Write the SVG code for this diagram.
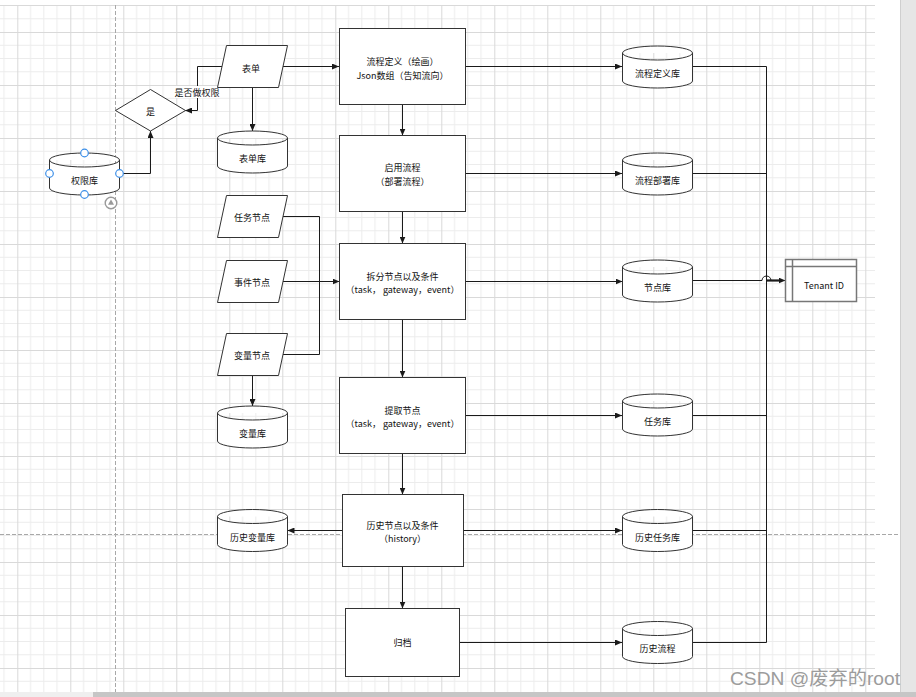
<svg xmlns="http://www.w3.org/2000/svg" width="916" height="697" viewBox="0 0 916 697">
<style>
.shape{fill:#fff;stroke:#333;stroke-width:1}
.t{font-family:"Noto Sans CJK SC","Liberation Sans",sans-serif;font-size:9px;fill:#111;text-anchor:middle;dominant-baseline:central}
.edge{fill:none;stroke:#1a1a1a;stroke-width:1}
.arr{marker-end:url(#ah)}
.handle{fill:#fff;stroke:#3b8ee8;stroke-width:1.2}
</style>
<defs>
<pattern id="grid" x="17.3" y="32" width="53" height="53" patternUnits="userSpaceOnUse">
<path d="M13.25,0V53M26.5,0V53M39.75,0V53M0,13.25H53M0,26.5H53M0,39.75H53" stroke="#ececec" stroke-width="1" fill="none"/>
<path d="M0.5,0V53M0,0.5H53" stroke="#d9d9d9" stroke-width="1" fill="none"/>
</pattern>
<marker id="ah" markerUnits="userSpaceOnUse" markerWidth="7" markerHeight="6" refX="7" refY="3" orient="auto">
<path d="M0,0L7,3L0,6Z" fill="#1a1a1a"/>
</marker>
<path id="cyl" d="M0,7A35,7 0 0 1 70,7V35A35,7 0 0 1 0,35ZM0,7A35,7 0 0 0 70,7"/>
<path id="para" d="M9,0H70L61,42H0Z"/>
</defs>

<!-- canvas background -->
<rect x="0" y="0" width="916" height="697" fill="#fff"/>
<rect x="0" y="5" width="875" height="687" fill="url(#grid)"/>
<line x1="0" y1="5.5" x2="875" y2="5.5" stroke="#d9d9d9"/>
<rect x="900" y="0" width="16" height="692" fill="#e6e6e6"/>
<line x1="900.5" y1="0" x2="900.5" y2="692" stroke="#cfcfcf"/>
<rect x="0" y="692" width="916" height="5" fill="#efefef"/>
<rect x="93" y="692" width="823" height="5" fill="#c6c6c6"/>
<line x1="115.5" y1="5" x2="115.5" y2="692" stroke="#a8a8a8" stroke-dasharray="4 2"/>
<line x1="0" y1="534.5" x2="900" y2="534.5" stroke="#a8a8a8" stroke-dasharray="4 2"/>

<!-- connectors -->
<g id="connectors">
<path class="edge arr" d="M282.5,66.5H339"/>
<path class="edge arr" d="M222.5,66.5H197.5V110.5H185"/>
<path class="edge arr" d="M252.5,87.5V131"/>
<path class="edge arr" d="M119.5,173.5H150.5V131"/>
<path class="edge arr" d="M402.5,104.5V135.5"/>
<path class="edge arr" d="M402.5,211.5V243.5"/>
<path class="edge arr" d="M402.5,319.5V377.5"/>
<path class="edge arr" d="M402.5,453.5V494.5"/>
<path class="edge arr" d="M402.5,566.5V608.5"/>
<path class="edge arr" d="M342.5,530.5H287.5"/>
<path class="edge" d="M283,216.5H319.5V354.5H283"/>
<path class="edge arr" d="M283,281.5H339.5"/>
<path class="edge arr" d="M252.5,375V406"/>
<path class="edge arr" d="M465.5,66.5H622"/>
<path class="edge arr" d="M465.5,173.5H622"/>
<path class="edge arr" d="M465.5,281.5H622.5"/>
<path class="edge arr" d="M465.5,415.5H622"/>
<path class="edge arr" d="M463.5,530.5H622"/>
<path class="edge arr" d="M459.5,642.5H622"/>
<path class="edge" d="M692.5,66.5H766.5V642.5H692.5M692.5,173.5H766.5M692.5,415.5H766.5M692.5,530.5H766.5"/>
<path class="edge arr" d="M692.5,280.5H762A4.5,4.5 0 0 1 771,280.5H785.5"/>
<path d="M766.5,280.5H781" stroke="#1a1a1a" stroke-width="2.2"/>
<rect x="174" y="86" width="46" height="12" fill="#fff"/>
<text class="t" x="197" y="92">是否做权限</text>
</g>

<!-- left column -->
<g id="biaodan"><use href="#para" class="shape" x="217.5" y="45.5"/><text class="t" x="251" y="68">表单</text></g>
<g id="shi"><path class="shape" d="M115.5,110.5L150.5,89.5L185.5,110.5L150.5,131Z"/><text class="t" x="150.5" y="111">是</text></g>
<g id="biaodanku"><use href="#cyl" class="shape" x="217.5" y="131"/><text class="t" x="252.5" y="158">表单库</text></g>
<g id="quanxianku"><use href="#cyl" class="shape" x="49.5" y="153"/><text class="t" x="84.5" y="180">权限库</text>
<circle class="handle" cx="84.5" cy="153" r="3.8"/><circle class="handle" cx="49.5" cy="173.5" r="3.8"/><circle class="handle" cx="119.5" cy="173.5" r="3.8"/><circle class="handle" cx="84.5" cy="194.5" r="3.8"/>
<circle cx="111" cy="203" r="5.8" fill="#fff" stroke="#9a9a9a" stroke-width="1.4"/><path d="M111,199.6L114,204.8H108Z" fill="#9a9a9a"/></g>
<g id="renwujiedian"><use href="#para" class="shape" x="217.5" y="195.5"/><text class="t" x="252" y="217">任务节点</text></g>
<g id="shijianjiedian"><use href="#para" class="shape" x="217.5" y="260.5"/><text class="t" x="252" y="282">事件节点</text></g>
<g id="bianliangjiedian"><use href="#para" class="shape" x="217.5" y="333.5"/><text class="t" x="252" y="355">变量节点</text></g>
<g id="bianliangku"><use href="#cyl" class="shape" x="217.5" y="406"/><text class="t" x="252.5" y="433">变量库</text></g>
<g id="lishibianliangku"><use href="#cyl" class="shape" x="217.5" y="509.5"/><text class="t" x="252.5" y="537">历史变量库</text></g>

<!-- center column -->
<g id="liuchengdingyi"><rect class="shape" x="339.5" y="28.5" width="126" height="76"/><text class="t" x="402.5" y="61">流程定义（绘画）</text><text class="t" x="402.5" y="75">Json数组（告知流向）</text></g>
<g id="qiyongliucheng"><rect class="shape" x="339.5" y="135.5" width="126" height="76"/><text class="t" x="402.5" y="167.5">启用流程</text><text class="t" x="402.5" y="181.5">（部署流程）</text></g>
<g id="chaifen"><rect class="shape" x="339.5" y="243.5" width="126" height="76"/><text class="t" x="402.5" y="276">拆分节点以及条件</text><text class="t" x="402.5" y="289">（task， gateway，event）</text></g>
<g id="tiqu"><rect class="shape" x="339.5" y="377.5" width="126" height="76"/><text class="t" x="402.5" y="410">提取节点</text><text class="t" x="402.5" y="423">（task， gateway，event）</text></g>
<g id="lishi"><rect class="shape" x="342.5" y="494.5" width="121" height="72"/><text class="t" x="402.5" y="525">历史节点以及条件</text><text class="t" x="402.5" y="538.5">（history）</text></g>
<g id="guidang"><rect class="shape" x="345.5" y="608.5" width="114" height="68"/><text class="t" x="402.5" y="642.5">归档</text></g>

<!-- right column -->
<g id="liuchengdingyiku"><use href="#cyl" class="shape" x="622.5" y="46"/><text class="t" x="657.5" y="73.5">流程定义库</text></g>
<g id="liuchengbushuku"><use href="#cyl" class="shape" x="622.5" y="153"/><text class="t" x="657.5" y="180">流程部署库</text></g>
<g id="jiedianku"><use href="#cyl" class="shape" x="622.5" y="260"/><text class="t" x="657.5" y="287">节点库</text></g>
<g id="renwuku"><use href="#cyl" class="shape" x="622.5" y="394"/><text class="t" x="657.5" y="421">任务库</text></g>
<g id="lishirenwuku"><use href="#cyl" class="shape" x="622.5" y="509.5"/><text class="t" x="657.5" y="537">历史任务库</text></g>
<g id="lishiliucheng"><use href="#cyl" class="shape" x="622.5" y="621.5"/><text class="t" x="657.5" y="648.5">历史流程</text></g>
<g id="tenantid"><rect x="785.5" y="259.5" width="71" height="42" fill="#fff" stroke="#777" stroke-width="1.5"/><path d="M785.5,266.5H856.5M792.5,259.5V301.5" stroke="#777" stroke-width="1.5" fill="none"/><text class="t" x="824" y="285" font-family="Liberation Sans, sans-serif">Tenant ID</text></g>

<text x="730" y="685" font-family="Liberation Sans, Noto Sans CJK SC, sans-serif" font-size="19" fill="#9c9c9c" textLength="170" lengthAdjust="spacingAndGlyphs">CSDN @废弃的root</text>
</svg>
